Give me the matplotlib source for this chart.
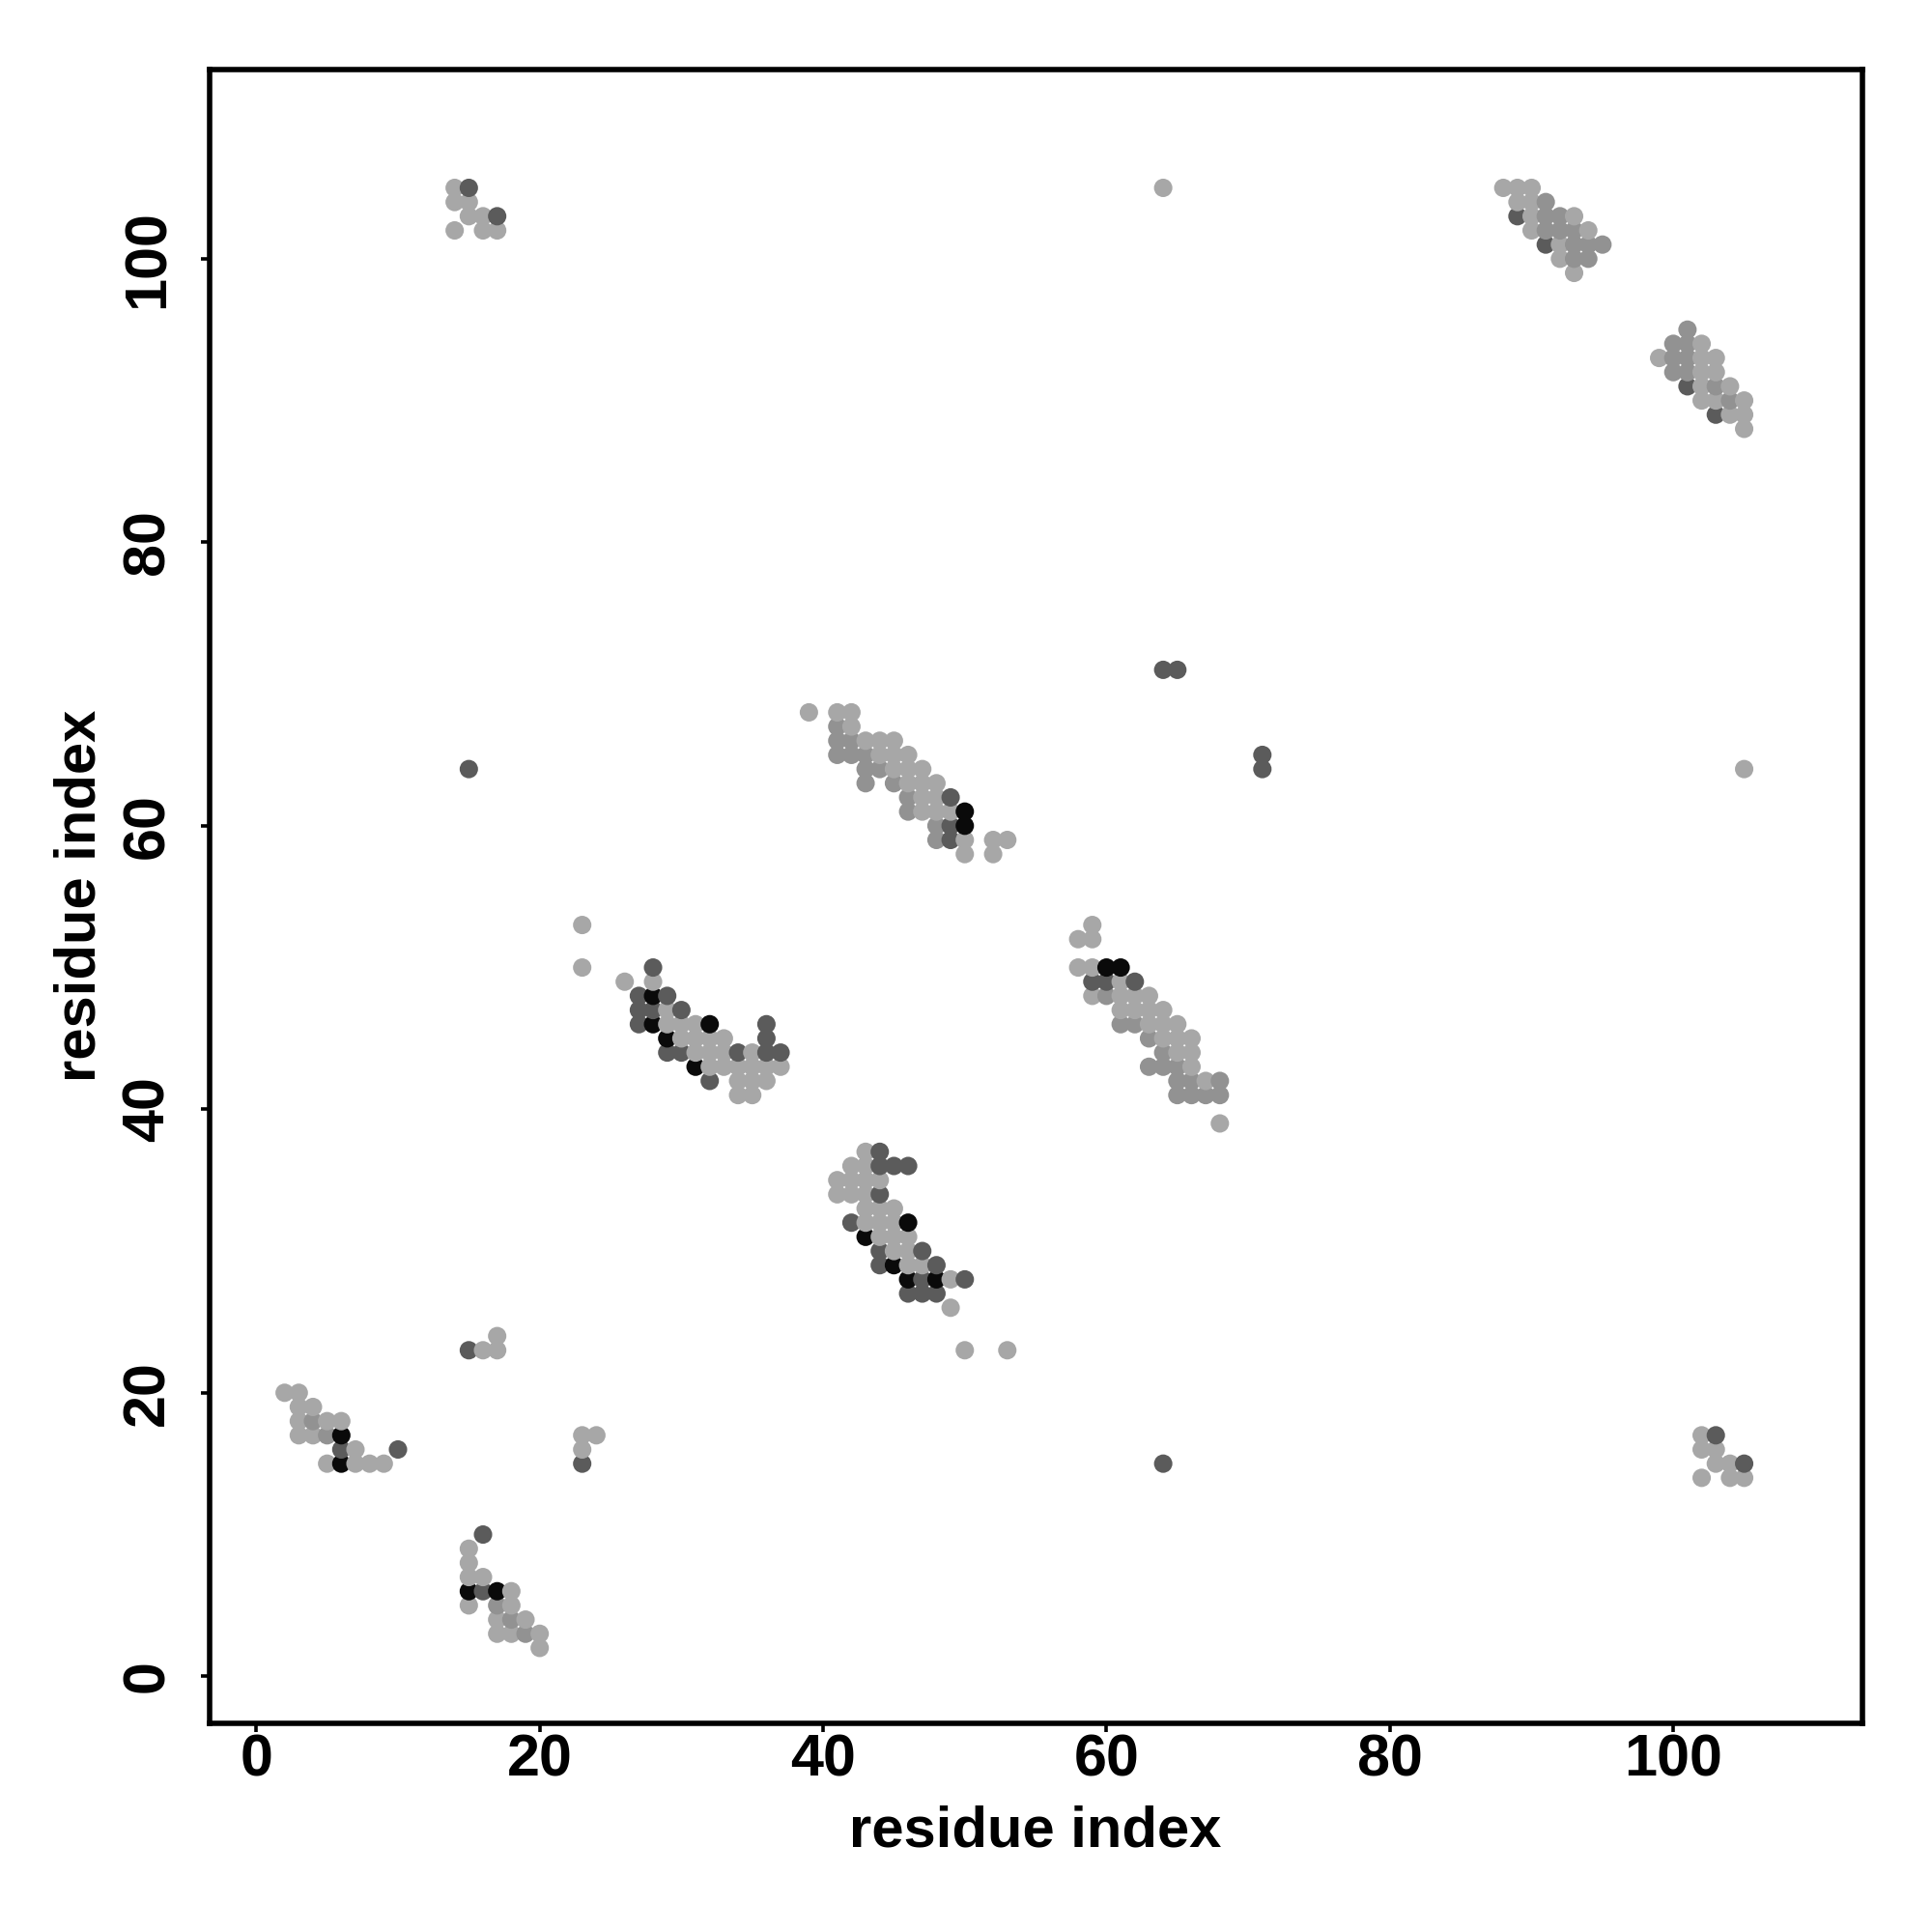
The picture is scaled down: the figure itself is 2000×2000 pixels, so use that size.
import numpy as np
import matplotlib.pyplot as plt

# contact points (residue i, residue j), grouped by grey level
light = [
    (14, 105), (14, 104), (15, 104), (15, 103), (16, 103), (14, 102), (16, 102), (17, 102),
    (64, 105), (105, 64),
    # upper right
    (88, 105), (89, 105), (90, 105), (89, 104), (90, 104), (90, 103), (93, 103),
    (90, 102), (94, 102), (92, 101), (92, 100), (93, 99),
    (102, 94), (99, 93), (102, 93), (103, 93), (102, 92), (103, 92), (102, 91), (104, 91),
    (102, 90), (103, 90), (105, 90), (104, 89), (105, 89), (105, 88),
    # 39-53 / 58-68
    (39, 68), (41, 68), (42, 68), (42, 67), (43, 66), (44, 66), (45, 66),
    (44, 65), (45, 65), (46, 65), (45, 64), (46, 64), (47, 64), (46, 63), (47, 63), (48, 63),
    (47, 62), (48, 62), (47, 61), (48, 61), (49, 61), (50, 59), (52, 59), (53, 59),
    (50, 58), (52, 58),
    # 23-37 / 41-53
    (23, 53), (23, 50), (26, 49), (28, 49), (29, 47), (29, 46), (30, 46), (31, 46),
    (30, 45), (31, 45), (32, 45), (33, 45), (31, 44), (32, 44), (33, 44), (35, 44),
    (32, 43), (33, 43), (34, 43), (35, 43), (36, 43), (37, 43), (34, 42), (35, 42), (36, 42),
    (34, 41), (35, 41),
    # 58-68 / 39-53
    (59, 53), (58, 52), (59, 52), (58, 50), (59, 50), (61, 49), (59, 48), (61, 48), (62, 48),
    (63, 48), (61, 47), (62, 47), (63, 47), (64, 47), (63, 46), (64, 46), (65, 46),
    (64, 45), (65, 45), (66, 45), (65, 44), (66, 44), (66, 43), (67, 42), (68, 39),
    # 41-53 / 23-37
    (43, 37), (42, 36), (43, 36), (41, 35), (42, 35), (43, 35), (44, 35), (41, 34), (42, 34),
    (43, 34), (43, 33), (44, 33), (45, 33), (43, 32), (44, 32), (45, 32), (44, 31), (45, 31),
    (46, 31), (45, 30), (46, 30), (46, 29), (47, 29), (49, 28), (49, 26), (50, 23), (53, 23),
    # bottom left
    (2, 20), (3, 20), (3, 19), (4, 19), (3, 18), (5, 18), (6, 18), (3, 17), (4, 17),
    (7, 16), (5, 15), (7, 15), (8, 15), (9, 15),
    (17, 24), (16, 23), (17, 23), (23, 17), (24, 17), (23, 16),
    (15, 9), (15, 8), (15, 7), (16, 7), (18, 6), (15, 5), (18, 5), (17, 4), (19, 4),
    (17, 3), (18, 3), (20, 3), (20, 2),
    # bottom right
    (102, 17), (102, 16), (103, 16), (103, 15), (104, 15), (102, 14), (104, 14), (105, 14),
]
mid = [
    (91, 104), (91, 103), (92, 103), (91, 102), (92, 102), (93, 102),
    (93, 101), (94, 101), (95, 101), (93, 100), (94, 100),
    (101, 95), (100, 94), (101, 94), (100, 93), (101, 93), (100, 92), (101, 92),
    (103, 91), (104, 90),
    (41, 67), (41, 66), (42, 66), (41, 65), (42, 65), (43, 65), (43, 64), (44, 64),
    (43, 63), (45, 63), (46, 62), (46, 61), (48, 60), (48, 59),
    (60, 48), (61, 46), (62, 46), (63, 45), (64, 44), (63, 43), (64, 43), (65, 43),
    (65, 42), (66, 42), (68, 42), (65, 41), (66, 41), (67, 41), (68, 41),
    (4, 18), (5, 17), (17, 5), (18, 4), (19, 3),
]
dark = [
    (15, 105), (17, 103),
    (64, 71), (65, 71), (71, 65), (71, 64), (15, 64), (64, 15),
    (89, 103), (91, 101), (101, 91), (103, 89),
    (49, 62), (49, 60), (49, 59),
    (28, 50), (27, 48), (29, 48), (27, 47), (28, 47), (30, 47), (27, 46), (36, 46), (36, 45),
    (29, 44), (30, 44), (34, 44), (36, 44), (37, 44), (32, 42),
    (59, 49), (60, 49), (62, 49),
    (44, 37), (44, 36), (45, 36), (46, 36), (44, 34), (42, 32), (44, 30), (47, 30),
    (44, 29), (48, 29), (47, 28), (50, 28), (46, 27), (47, 27), (48, 27),
    (6, 16), (10, 16), (15, 23), (23, 15), (16, 10), (16, 6),
    (103, 17), (105, 15),
]
black = [
    (50, 61), (50, 60),
    (28, 48), (28, 46), (32, 46), (29, 45), (31, 43),
    (60, 50), (61, 50),
    (46, 32), (43, 31), (45, 29), (46, 28), (48, 28),
    (6, 17), (6, 15), (15, 6), (17, 6),
]

levels = [light, mid, dark, black]
greys = ['#a7a7a7', '#929292', '#5b5b5b', '#0a0a0a']

pts, cols = [], []
for group, c in zip(levels, greys):
    pts.extend(group)
    cols.extend([c] * len(group))
pts = np.array(pts)
cols = np.array(cols)
# draw in index order (by i, then j) like a double loop would
order = np.lexsort((pts[:, 1], pts[:, 0]))

plt.rcParams['font.family'] = ['Liberation Sans', 'DejaVu Sans']
plt.rcParams['font.weight'] = 'bold'

fig = plt.figure(figsize=(10, 10), dpi=200)
ax = fig.add_axes([0.1083, 0.108, 0.8555, 0.8558])
ax.scatter(pts[order, 0], pts[order, 1], s=47, c=cols[order], linewidths=0)

n = 109
ext = 0.04 * (n - 1)
ax.set_xlim(1 - ext, n + ext)
ax.set_ylim(1 - ext, n + ext)
ax.set_xticks(np.arange(0, 101, 20))
ax.set_yticks(np.arange(0, 101, 20))

for s in ax.spines.values():
    s.set_linewidth(2.0)
ax.tick_params(direction='out', length=3.3, width=1.3, labelsize=22)
ax.tick_params(axis='x', pad=0.5)
ax.tick_params(axis='y', pad=9, labelrotation=90)
for lbl in ax.get_yticklabels():
    lbl.set_va('center')

fig.text(0.536, 0.044, 'residue index', fontsize=21.5, fontweight='bold',
         ha='center', va='baseline')
fig.text(0.0492, 1 - 927 / 2000, 'residue index', fontsize=21.5, fontweight='bold',
         rotation=90, rotation_mode='anchor', ha='center', va='baseline')

fig.savefig('out.png', dpi=200)
